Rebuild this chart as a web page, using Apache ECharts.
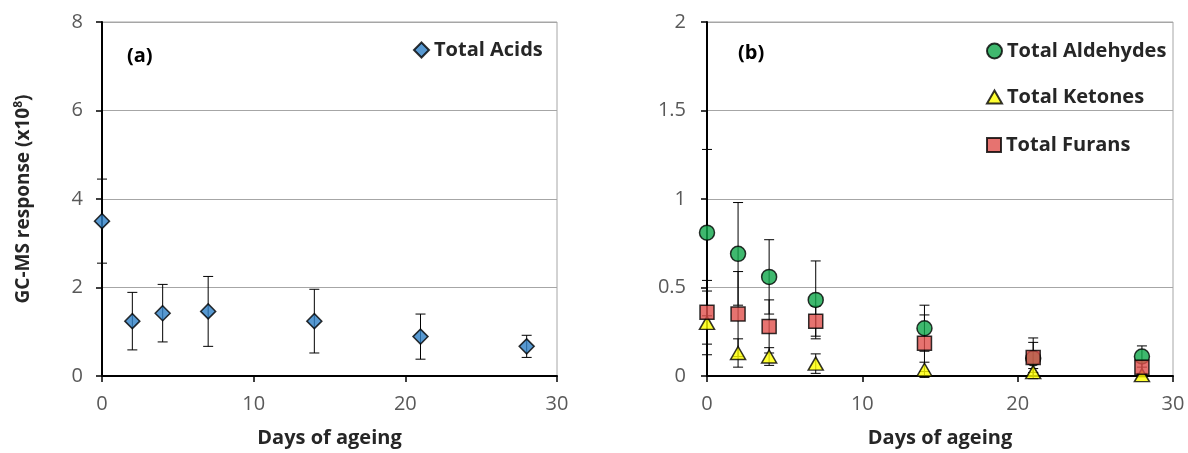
<!DOCTYPE html>
<html>
<head>
  <meta charset="utf-8">
  <title>GC-MS ageing</title>
  <script src="https://cdn.jsdelivr.net/npm/echarts@6/dist/echarts.min.js"></script>
  <style>
    html, body { margin: 0; padding: 0; background: #fff; }
    #main { width: 1188px; height: 453px; }
  </style>
</head>
<body>
<div id="main"></div>
<script type="text/javascript">
  // days of ageing
  var days = [0, 2, 4, 7, 14, 21, 28];
  // (a) total acids, x10^8
  var acids = [3.50, 1.24, 1.42, 1.46, 1.24, 0.89, 0.67];
  var acidsErr = [0.95, 0.65, 0.65, 0.79, 0.72, 0.51, 0.25];
  // (b)
  var aldehydes = [0.81, 0.69, 0.56, 0.43, 0.27, 0.10, 0.11];
  var aldehydesErr = [0.47, 0.29, 0.21, 0.22, 0.13, 0.115, 0.06];
  var ketones = [0.30, 0.13, 0.11, 0.07, 0.035, 0.022, 0.005];
  var ketonesErr = [0.18, 0.08, 0.05, 0.055, 0.043, 0.02, 0.01];
  var furans = [0.36, 0.35, 0.28, 0.31, 0.185, 0.105, 0.05];
  var furansErr = [0.18, 0.24, 0.15, 0.085, 0.16, 0.085, 0.04];

  var FONT = '"Open Sans", sans-serif';

  function pts(vals) {
    return days.map(function (d, i) { return [d, vals[i]]; });
  }
  function errPts(vals, errs) {
    return days.map(function (d, i) { return [d, vals[i], errs[i]]; });
  }

  // vertical error bar with caps
  function renderErr(params, api) {
    var x = api.value(0), y = api.value(1), e = api.value(2);
    var hi = api.coord([x, y + e]);
    var lo = api.coord([x, y - e]);
    var w = 5;
    var st = { stroke: '#000', lineWidth: 1 };
    return {
      type: 'group',
      children: [
        { type: 'line', shape: { x1: hi[0], y1: hi[1], x2: lo[0], y2: lo[1] }, style: st },
        { type: 'line', shape: { x1: hi[0] - w, y1: hi[1], x2: hi[0] + w, y2: hi[1] }, style: st },
        { type: 'line', shape: { x1: lo[0] - w, y1: lo[1], x2: lo[0] + w, y2: lo[1] }, style: st }
      ]
    };
  }

  function errSeries(idx, vals, errs) {
    return {
      type: 'custom',
      xAxisIndex: idx, yAxisIndex: idx,
      renderItem: renderErr,
      encode: { x: 0, y: 1 },
      data: errPts(vals, errs),
      z: 1,
      silent: true
    };
  }

  function xAxis(idx) {
    return {
      type: 'value', gridIndex: idx, min: 0, max: 30, interval: 10,
      name: 'Days of ageing', nameLocation: 'middle', nameGap: 52,
      nameTextStyle: { fontFamily: FONT, fontSize: 20, fontWeight: 'bold', color: '#262626' },
      axisLine: { show: true, onZero: false, lineStyle: { color: '#000', width: 2 } },
      axisTick: { show: true, inside: false, length: 6, lineStyle: { color: '#000', width: 1.5 } },
      axisLabel: { fontFamily: FONT, fontSize: 20, color: '#595959', margin: 18 },
      splitLine: { show: false }
    };
  }

  function yAxis(idx, max, interval, extra) {
    var ax = {
      type: 'value', gridIndex: idx, min: 0, max: max, interval: interval,
      axisLine: { show: true, onZero: false, lineStyle: { color: '#000', width: 2 } },
      axisTick: { show: true, inside: false, length: 6, lineStyle: { color: '#000', width: 1.5 } },
      axisLabel: { fontFamily: FONT, fontSize: 20, color: '#595959', margin: idx === 0 ? 19 : 21 },
      splitLine: { show: true, lineStyle: { color: '#a6a6a6', width: 1 } }
    };
    for (var k in extra) ax[k] = extra[k];
    return ax;
  }

  function legendOne(name, icon, left, top, w, h) {
    return {
      left: left, top: top, orient: 'vertical',
      itemWidth: w, itemHeight: h, itemGap: 0,
      selectedMode: false,
      textStyle: { fontFamily: FONT, fontSize: 20, fontWeight: 'bold', color: '#262626' },
      data: [{ name: name, icon: icon }]
    };
  }

  var markBorder = { borderColor: '#000', borderWidth: 1.5 };

  var chart = echarts.init(document.getElementById('main'), null, { renderer: 'canvas' });

  var option = {
    animation: false,
    backgroundColor: '#fff',
    grid: [
      { left: 102, top: 22, width: 455, height: 357, show: true, borderColor: '#a6a6a6', borderWidth: 1 },
      { left: 707, top: 22, width: 466, height: 357, show: true, borderColor: '#a6a6a6', borderWidth: 1 }
    ],
    xAxis: [xAxis(0), xAxis(1)],
    yAxis: [
      yAxis(0, 8, 2, {
        name: 'GC-MS response (x10{sup|8})', nameLocation: 'middle', nameGap: 68,
        nameTextStyle: {
          fontFamily: FONT, fontSize: 19, fontWeight: 'bold', color: '#262626',
          rich: { sup: { fontFamily: FONT, fontSize: 12, fontWeight: 'bold', color: '#262626', verticalAlign: 'top', padding: [0, 0, 9, 0] } }
        }
      }),
      yAxis(1, 2, 0.5, {})
    ],
    legend: [
      legendOne('Total Acids', 'diamond', 408, 35, 15, 15),
      legendOne('Total Aldehydes', 'circle', 981, 36, 15, 15),
      legendOne('Total Ketones', 'triangle', 981, 82, 15, 13),
      legendOne('Total Furans', 'rect', 981, 130, 14, 14)
    ],
    graphic: [
      { type: 'text', left: 127, top: 46, style: { text: '(a)', font: 'bold 20px ' + FONT, fill: '#000' } },
      { type: 'text', left: 738, top: 43, style: { text: '(b)', font: 'bold 20px ' + FONT, fill: '#000' } }
    ],
    series: [
      errSeries(0, acids, acidsErr),
      errSeries(1, aldehydes, aldehydesErr),
      errSeries(1, ketones, ketonesErr),
      errSeries(1, furans, furansErr),
      {
        name: 'Total Acids', type: 'scatter', xAxisIndex: 0, yAxisIndex: 0,
        symbol: 'diamond', symbolSize: 15, z: 3,
        itemStyle: Object.assign({ color: '#2e7fc6' }, markBorder),
        data: pts(acids)
      },
      {
        name: 'Total Aldehydes', type: 'scatter', xAxisIndex: 1, yAxisIndex: 1,
        symbol: 'circle', symbolSize: 15, z: 3,
        itemStyle: Object.assign({ color: '#0fa64a' }, markBorder),
        data: pts(aldehydes)
      },
      {
        name: 'Total Ketones', type: 'scatter', xAxisIndex: 1, yAxisIndex: 1,
        symbol: 'triangle', symbolSize: [15, 13], z: 4,
        itemStyle: Object.assign({ color: '#ffff00' }, markBorder),
        data: pts(ketones)
      },
      {
        name: 'Total Furans', type: 'scatter', xAxisIndex: 1, yAxisIndex: 1,
        symbol: 'rect', symbolSize: 14, z: 5,
        itemStyle: Object.assign({ color: '#e0504c' }, markBorder),
        data: pts(furans)
      }
    ]
  };

  chart.setOption(option);
</script>
</body>
</html>
